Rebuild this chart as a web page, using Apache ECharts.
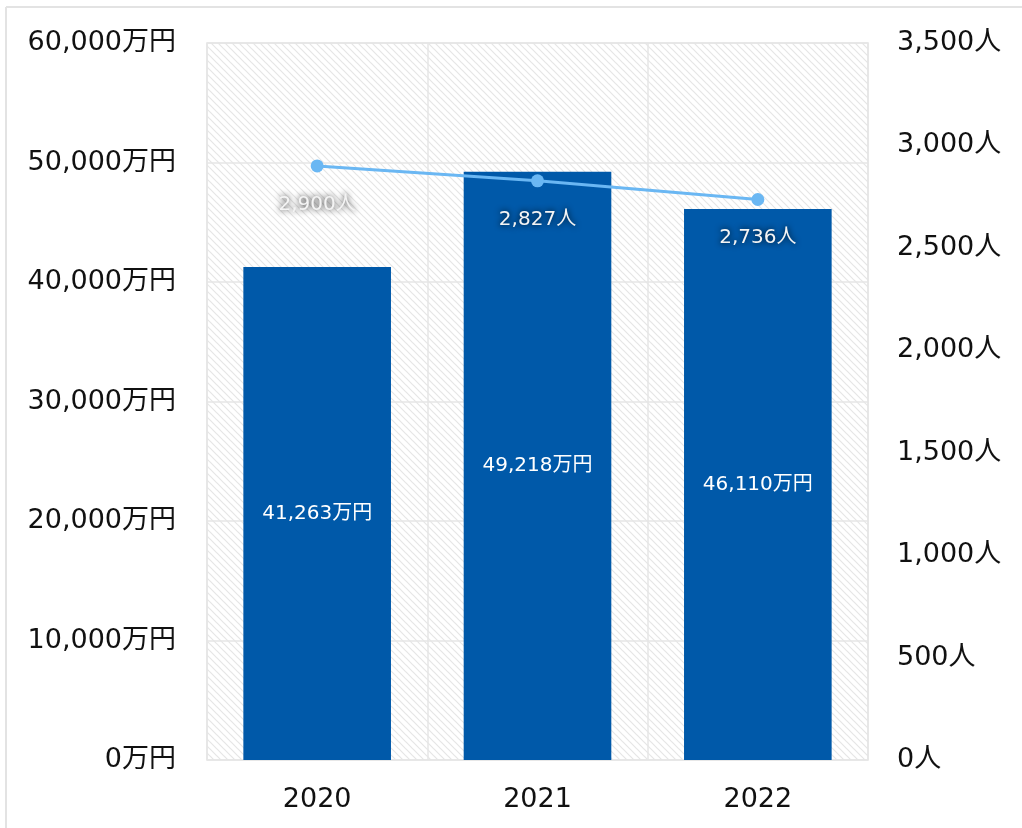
<!DOCTYPE html>
<html>
<head>
<meta charset="utf-8">
<script src="https://cdn.jsdelivr.net/npm/echarts@6/dist/echarts.min.js"></script>
<style>html,body{margin:0;padding:0;background:#fff;}#c{width:1022px;height:828px;}</style>
</head>
<body>
<div id="c"></div>
<script>
const categories = ['2020', '2021', '2022'];
const salesValues = [41263, 49218, 46110];
const staffValues = [2900, 2827, 2736];
const leftTicks = { min: 0, max: 60000, interval: 10000 };
const rightTicks = { min: 0, max: 3500, interval: 500 };

function fmt(n) { return n.toLocaleString('en-US'); }

// hatch pattern
const pc = document.createElement('canvas');
pc.width = 7; pc.height = 7;
const px = pc.getContext('2d');
px.fillStyle = '#ffffff';
px.fillRect(0, 0, 7, 7);
px.strokeStyle = '#e6e6e6';
px.lineWidth = 1.2;
px.beginPath();
px.moveTo(-1, -1); px.lineTo(8, 8);
px.moveTo(-5, 2); px.lineTo(4, 11);
px.moveTo(2, -5); px.lineTo(11, 4);
px.stroke();

const font = '"DejaVu Sans", "Noto Sans CJK JP", sans-serif';
const chart = echarts.init(document.getElementById('c'));
chart.setOption({
  backgroundColor: '#ffffff',
  animation: false,
  textStyle: { fontFamily: font },
  graphic: [
    { type: 'line', shape: { x1: 6, y1: 7, x2: 1022, y2: 7 }, style: { stroke: '#e3e3e3', lineWidth: 2 } },
    { type: 'line', shape: { x1: 6, y1: 7, x2: 6, y2: 828 }, style: { stroke: '#e3e3e3', lineWidth: 2 } }
  ],
  grid: {
    left: 207, right: 154, top: 43, bottom: 68,
    show: true,
    backgroundColor: { image: pc, repeat: 'repeat' },
    borderColor: '#e2e2e2', borderWidth: 1.5
  },
  xAxis: {
    type: 'category',
    data: categories,
    axisLine: { show: false },
    axisTick: { show: false },
    splitLine: { show: true, lineStyle: { color: '#e6e6e6', width: 1.5 } },
    axisLabel: { fontSize: 27, color: '#111', margin: 26, fontFamily: font }
  },
  yAxis: [
    {
      type: 'value', min: leftTicks.min, max: leftTicks.max, interval: leftTicks.interval,
      axisLine: { show: false }, axisTick: { show: false },
      splitLine: { show: true, lineStyle: { color: '#e6e6e6', width: 1.5 } },
      axisLabel: { fontSize: 27, color: '#111', margin: 31, fontFamily: font, formatter: v => fmt(v) + '万円' }
    },
    {
      type: 'value', min: rightTicks.min, max: rightTicks.max, interval: rightTicks.interval,
      position: 'right',
      axisLine: { show: false }, axisTick: { show: false },
      splitLine: { show: false },
      axisLabel: { fontSize: 27, color: '#111', margin: 29, fontFamily: font, formatter: v => fmt(v) + '人' }
    }
  ],
  series: [
    {
      type: 'bar',
      data: salesValues,
      yAxisIndex: 0,
      barWidth: '67%',
      itemStyle: { color: '#0059a9' },
      label: {
        show: true, position: 'inside', color: '#ffffff', fontSize: 20, fontFamily: font,
        formatter: p => fmt(p.value) + '万円'
      }
    },
    {
      type: 'line',
      data: staffValues,
      yAxisIndex: 1,
      symbol: 'circle', symbolSize: 13,
      lineStyle: { color: '#6ab7f3', width: 3 },
      itemStyle: { color: '#6ab7f3' },
      label: {
        show: true, position: 'bottom', distance: 22, color: '#f4f4f4', fontSize: 20, fontFamily: font,
        textShadowColor: 'rgba(0,0,0,0.95)', textShadowBlur: 6,
        formatter: p => fmt(p.value) + '人'
      },
      z: 5
    }
  ]
});
</script>
</body>
</html>
